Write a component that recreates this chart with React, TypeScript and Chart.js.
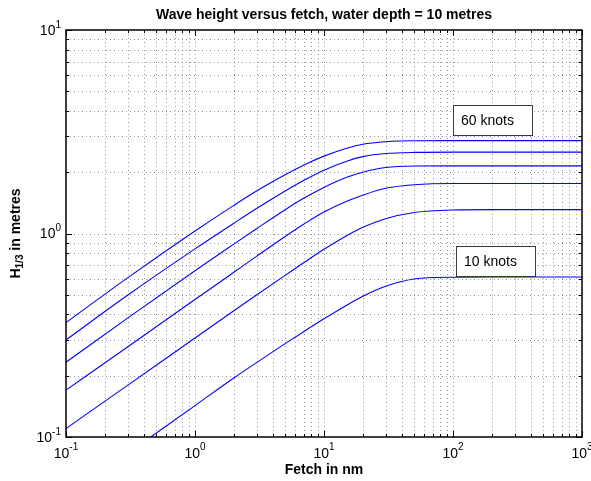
import React, { useEffect, useRef } from "react";
import { Chart, registerables } from "chart.js";

Chart.register(...registerables);

// Fetch in nautical miles (x values)
const fetchNm = [0.1, 0.3, 1, 2, 3, 5, 7, 10, 15, 20, 30, 50, 100, 200, 1000];

// Significant wave height H1/3 in metres
const knots60 = [0.365, 0.605, 1.028, 1.375, 1.617, 1.943, 2.171, 2.4, 2.623, 2.747, 2.826, 2.857, 2.86, 2.86, 2.86];
const knots50 = [0.3, 0.497, 0.84, 1.123, 1.327, 1.619, 1.827, 2.048, 2.267, 2.387, 2.471, 2.503, 2.51, 2.51, 2.51];
const knots40 = [0.233, 0.384, 0.6565, 0.887, 1.056, 1.309, 1.493, 1.685, 1.888, 2.0, 2.109, 2.146, 2.15, 2.15, 2.15];
const knots30 = [0.17, 0.277, 0.4736, 0.6446, 0.772, 0.967, 1.113, 1.275, 1.44, 1.543, 1.667, 1.736, 1.76, 1.76, 1.76];
const knots20 = [0.11, 0.1794, 0.3064, 0.4172, 0.4985, 0.6225, 0.72, 0.836, 0.975, 1.072, 1.182, 1.269, 1.305, 1.31, 1.31];
const knots10 = [0.0506, 0.083, 0.1427, 0.195, 0.232, 0.2876, 0.3302, 0.3808, 0.4443, 0.4914, 0.5504, 0.5973, 0.6097, 0.611, 0.611];

const seriesNames = ["60 knots", "50 knots", "40 knots", "30 knots", "20 knots", "10 knots"];
const seriesValues = [knots60, knots50, knots40, knots30, knots20, knots10];

// Tick labels (powers of ten)
const xExponents = ["-1", "0", "1", "2", "3"];
const yExponents = ["-1", "0", "1"];

const titleText = "Wave height versus fetch, water depth = 10 metres";
const xLabelText = "Fetch in nm";
const yLabelMain = "H";
const yLabelSub = "1/3";
const yLabelRest = " in metres";

// Annotation text boxes (anchored in data coordinates: left edge fetch, top height)
const boxTexts = ["60 knots", "10 knots"];
const boxFetch = [100, 105];
const boxTop = [4.3, 0.87];

const FONT = '"Liberation Sans", Arial, Helvetica, sans-serif';

const decorPlugin = {
  id: "matlabDecor",
  beforeDatasetsDraw(chart: any) {
    const { ctx, chartArea: a, scales } = chart;
    const xs = scales.x;
    const ys = scales.y;
    ctx.save();
    ctx.strokeStyle = "rgba(70,70,70,0.55)";
    ctx.lineWidth = 1;
    ctx.setLineDash([1, 3]);
    for (let d = -1; d < 3; d++) {
      for (let m = 1; m <= 9; m++) {
        const v = m * Math.pow(10, d);
        if (v <= 0.1 + 1e-9) continue;
        const px = Math.round(xs.getPixelForValue(v)) + 0.5;
        ctx.beginPath();
        ctx.moveTo(px, a.top);
        ctx.lineTo(px, a.bottom);
        ctx.stroke();
      }
    }
    for (let d = -1; d < 1; d++) {
      for (let m = 1; m <= 9; m++) {
        const v = m * Math.pow(10, d);
        if (v <= 0.1 + 1e-9) continue;
        const py = Math.round(ys.getPixelForValue(v)) + 0.5;
        ctx.beginPath();
        ctx.moveTo(a.left, py);
        ctx.lineTo(a.right, py);
        ctx.stroke();
      }
    }
    ctx.restore();
  },
  afterDatasetsDraw(chart: any) {
    const { ctx, chartArea: a, scales } = chart;
    const xs = scales.x;
    const ys = scales.y;
    ctx.save();
    // ticks (inward, all four sides)
    ctx.strokeStyle = "#000";
    ctx.lineWidth = 1;
    ctx.setLineDash([]);
    for (let d = -1; d <= 3; d++) {
      for (let m = 1; m <= 9; m++) {
        const v = m * Math.pow(10, d);
        if (v > 1000 + 1e-6) continue;
        const len = m === 1 ? 6 : 3;
        const px = Math.round(xs.getPixelForValue(v)) + 0.5;
        ctx.beginPath();
        ctx.moveTo(px, a.bottom);
        ctx.lineTo(px, a.bottom - len);
        ctx.moveTo(px, a.top);
        ctx.lineTo(px, a.top + len);
        ctx.stroke();
      }
    }
    for (let d = -1; d <= 1; d++) {
      for (let m = 1; m <= 9; m++) {
        const v = m * Math.pow(10, d);
        if (v > 10 + 1e-6) continue;
        const len = m === 1 ? 6 : 3;
        const py = Math.round(ys.getPixelForValue(v)) + 0.5;
        ctx.beginPath();
        ctx.moveTo(a.left, py);
        ctx.lineTo(a.left + len, py);
        ctx.moveTo(a.right, py);
        ctx.lineTo(a.right - len, py);
        ctx.stroke();
      }
    }
    // axes box
    ctx.lineWidth = 1.5;
    ctx.strokeRect(a.left, a.top, a.right - a.left, a.bottom - a.top);

    // tick labels
    ctx.fillStyle = "#000";
    ctx.textBaseline = "middle";
    ctx.textAlign = "left";
    xExponents.forEach((e) => {
      const v = Math.pow(10, Number(e));
      const px = xs.getPixelForValue(v);
      ctx.font = `14px ${FONT}`;
      const wb = ctx.measureText("10").width;
      ctx.font = `10px ${FONT}`;
      const ws = ctx.measureText(e).width;
      const start = px - (wb + ws) / 2;
      ctx.font = `14px ${FONT}`;
      ctx.fillText("10", start, a.bottom + 17);
      ctx.font = `10px ${FONT}`;
      ctx.fillText(e, start + wb, a.bottom + 10.5);
    });
    yExponents.forEach((e) => {
      const v = Math.pow(10, Number(e));
      const py = ys.getPixelForValue(v);
      ctx.font = `10px ${FONT}`;
      const ws = ctx.measureText(e).width;
      ctx.font = `14px ${FONT}`;
      const wb = ctx.measureText("10").width;
      const right = a.left - 5;
      ctx.fillText("10", right - ws - wb, py + 1);
      ctx.font = `10px ${FONT}`;
      ctx.fillText(e, right - ws, py - 5);
    });

    // title
    ctx.textAlign = "center";
    ctx.font = `bold 14px ${FONT}`;
    ctx.fillText(titleText, (a.left + a.right) / 2, 15);
    // x label
    ctx.fillText(xLabelText, (a.left + a.right) / 2, a.bottom + 33);

    // y label rotated
    ctx.save();
    ctx.translate(20, (a.top + a.bottom) / 2);
    ctx.rotate(-Math.PI / 2);
    ctx.textAlign = "left";
    ctx.textBaseline = "alphabetic";
    ctx.font = `bold 14px ${FONT}`;
    const wH = ctx.measureText(yLabelMain).width;
    const wR = ctx.measureText(yLabelRest).width;
    ctx.font = `bold 10px ${FONT}`;
    const wS = ctx.measureText(yLabelSub).width;
    let sx = -(wH + wS + wR) / 2;
    ctx.font = `bold 14px ${FONT}`;
    ctx.fillText(yLabelMain, sx, 0);
    sx += wH;
    ctx.font = `bold 10px ${FONT}`;
    ctx.fillText(yLabelSub, sx, 3);
    sx += wS;
    ctx.font = `bold 14px ${FONT}`;
    ctx.fillText(yLabelRest, sx, 0);
    ctx.restore();

    // annotation boxes
    boxTexts.forEach((t, i) => {
      const bx = Math.round(xs.getPixelForValue(boxFetch[i])) + 0.5;
      const by = Math.round(ys.getPixelForValue(boxTop[i])) + 0.5;
      const bw = 79;
      const bh = 30;
      ctx.fillStyle = "#fff";
      ctx.fillRect(bx, by, bw, bh);
      ctx.strokeStyle = "#3a3a3a";
      ctx.lineWidth = 1;
      ctx.strokeRect(bx, by, bw, bh);
      ctx.fillStyle = "#000";
      ctx.font = `14px ${FONT}`;
      ctx.textAlign = "left";
      ctx.textBaseline = "middle";
      ctx.fillText(t, bx + 7.5, by + bh / 2 + 1);
    });
    ctx.restore();
  },
};

export default function App() {
  const canvasRef = useRef<HTMLCanvasElement | null>(null);

  useEffect(() => {
    document.body.style.margin = "0";
    const canvas = canvasRef.current;
    if (!canvas) return;
    const chart = new Chart(canvas, {
      type: "line",
      data: {
        datasets: seriesValues.map((vals, i) => ({
          label: seriesNames[i],
          data: fetchNm.map((f, j) => ({ x: f, y: vals[j] })),
          borderColor: "#0000ff",
          backgroundColor: "#0000ff",
          borderWidth: 1.1,
          pointRadius: 0,
          fill: false,
          cubicInterpolationMode: "monotone" as const,
        })),
      },
      options: {
        animation: false,
        responsive: false,
        devicePixelRatio: 1,
        layout: { padding: { left: 66, top: 30, right: 9, bottom: 44 } },
        plugins: {
          legend: { display: false },
          tooltip: { enabled: false },
          title: { display: false },
        },
        scales: {
          x: { type: "logarithmic", min: 0.1, max: 1000, display: false },
          y: { type: "logarithmic", min: 0.1, max: 10, display: false },
        },
      },
      plugins: [decorPlugin],
    });
    return () => chart.destroy();
  }, []);

  return (
    <div style={{ width: 591, height: 481, background: "#fff" }}>
      <canvas ref={canvasRef} width={591} height={481} style={{ display: "block" }} />
    </div>
  );
}
